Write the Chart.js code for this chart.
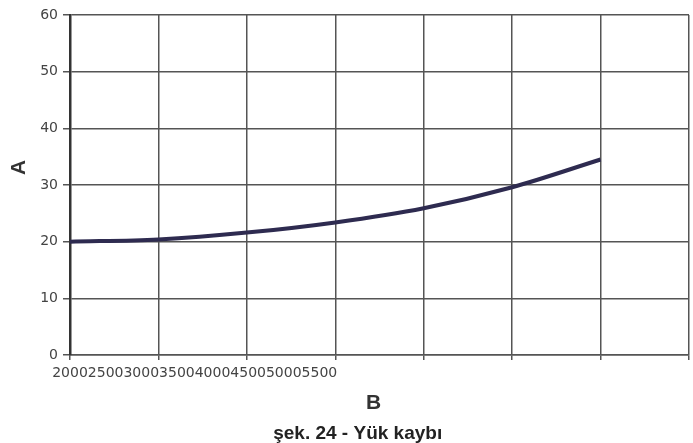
<!DOCTYPE html>
<html>
<head>
<meta charset="utf-8">
<script src="https://cdn.jsdelivr.net/npm/chart.js@4"></script>
<style>
  html, body { margin: 0; padding: 0; background: #ffffff; }
  #wrap { width: 693px; height: 443px; }
</style>
</head>
<body>
<div id="wrap"><canvas id="c" width="693" height="443"></canvas></div>
<script>
// ---- data ----
const categories = ['2000', '2500', '3000', '3500', '4000', '4500', '5000', '5500'];
const seriesA = [20.0, 20.4, 21.6, 23.4, 25.9, 29.6, 34.5, null];
const yTicks = [0, 10, 20, 30, 40, 50, 60];
const xTitle = 'B';
const yTitle = 'A';
const caption = 'şek. 24 - Yük kaybı';

// draws the x tick labels run together, as in the reference
const crampedLabels = {
  id: 'crampedLabels',
  afterDraw(chart) {
    const xs = chart.scales.x;
    const ctx = chart.ctx;
    ctx.save();
    ctx.font = '14px "DejaVu Sans"';
    ctx.fillStyle = '#444444';
    ctx.textBaseline = 'middle';
    ctx.textAlign = 'left';
    const x0 = xs.getPixelForValue(0) - ctx.measureText(categories[0]).width / 2;
    ctx.fillText(categories.join(''), x0, xs.top + 18);
    ctx.restore();
  }
};

new Chart(document.getElementById('c'), {
  type: 'line',
  data: {
    labels: categories,
    datasets: [{
      data: seriesA,
      borderColor: '#2e2b50',
      borderWidth: 4,
      pointRadius: 0,
      fill: false,
      cubicInterpolationMode: 'monotone',
      spanGaps: false
    }]
  },
  options: {
    responsive: false,
    animation: false,
    layout: { padding: { top: 15, right: 4, left: 0, bottom: 0 } },
    plugins: {
      legend: { display: false },
      tooltip: { enabled: false },
      title: {
        display: true,
        text: '     ' + caption,
        position: 'bottom',
        color: '#222222',
        font: { family: 'Liberation Sans', size: 19, weight: 'bold', lineHeight: 1 },
        padding: 0
      }
    },
    scales: {
      x: {
        type: 'category',
        offset: false,
        grid: { color: '#555555', lineWidth: 1.5, drawTicks: true, tickLength: 5 },
        border: { color: '#555555', width: 1.5 },
        ticks: { display: false },
        title: {
          display: true,
          text: xTitle + '  ',
          color: '#333333',
          font: { family: 'Liberation Sans', size: 21, weight: 'bold', lineHeight: 1 },
          padding: { top: 0, bottom: 10.5 }
        },
        afterFit(s) { s.height = 69; }
      },
      y: {
        min: 0,
        max: 60,
        afterBuildTicks(s) { s.ticks = yTicks.map(v => ({ value: v })); },
        grid: { color: '#555555', lineWidth: 1.5, drawTicks: true, tickLength: 7 },
        border: { color: '#333333', width: 2.5 },
        ticks: {
          color: '#444444',
          padding: 5,
          font: { family: 'DejaVu Sans', size: 14 }
        },
        title: {
          display: true,
          text: '      ' + yTitle,
          color: '#333333',
          font: { family: 'Liberation Sans', size: 21, weight: 'bold', lineHeight: 1 },
          padding: { top: 8.5, bottom: 0 }
        },
        afterFit(s) { s.width = 70; }
      }
    }
  },
  plugins: [crampedLabels]
});
</script>
</body>
</html>
